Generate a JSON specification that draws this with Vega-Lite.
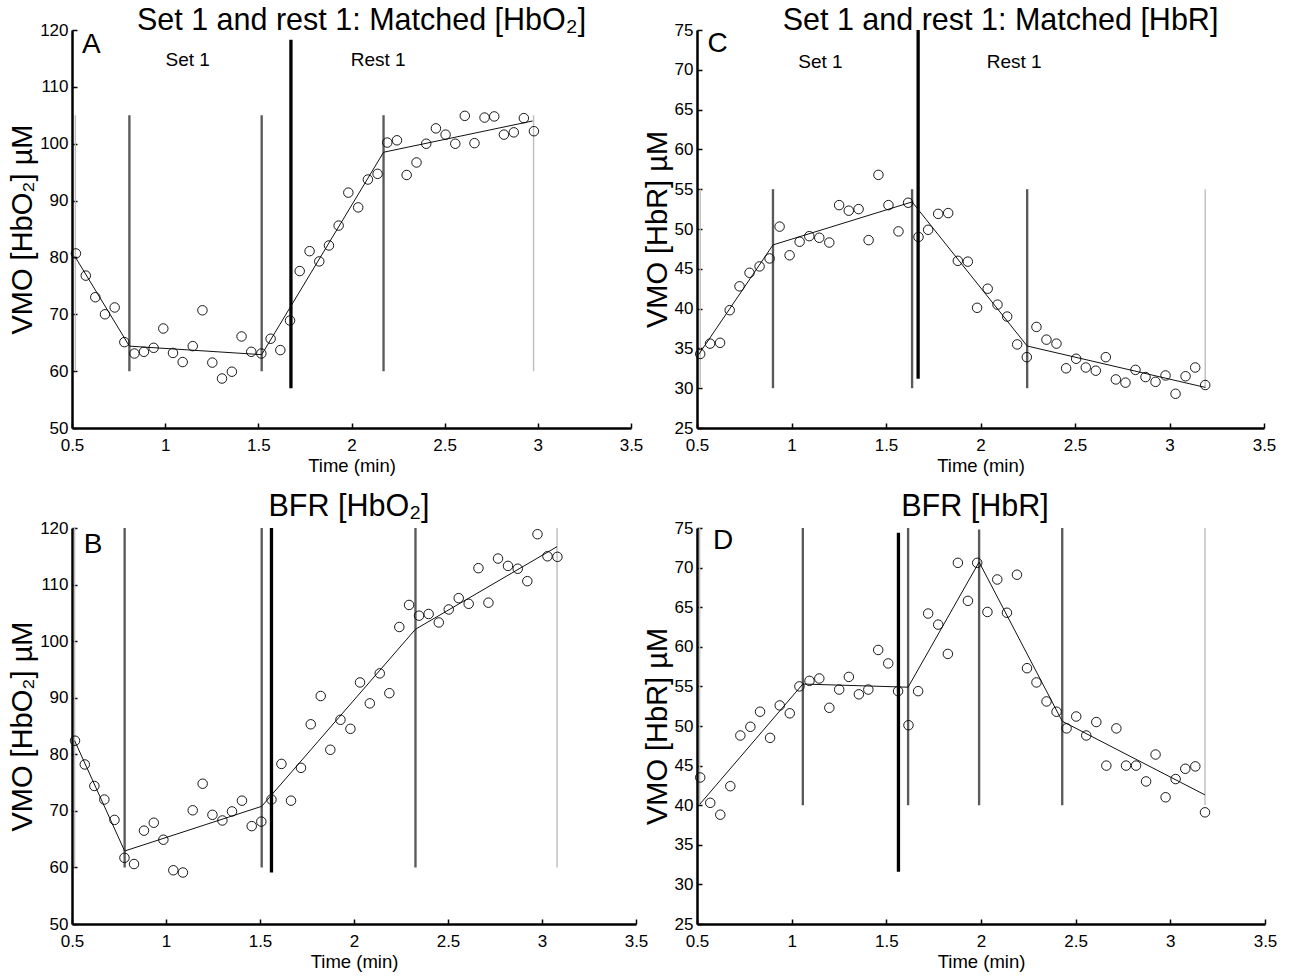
{
  "$schema": "https://vega.github.io/schema/vega-lite/v6.json",
  "padding": {"left": 8, "top": 5, "right": 5, "bottom": 5},
  "background": "white",
  "datasets": {
    "pA": [
      {"t":0.521,"v":80.7},{"t":0.574,"v":76.8},{"t":0.625,"v":73.0},{"t":0.677,"v":70.0},{"t":0.729,"v":71.2},{"t":0.781,"v":65.1},{"t":0.835,"v":63.1},{"t":0.886,"v":63.4},{"t":0.938,"v":64.1},{"t":0.990,"v":67.5},{"t":1.042,"v":63.2},{"t":1.094,"v":61.6},{"t":1.148,"v":64.4},{"t":1.200,"v":70.7},{"t":1.253,"v":61.5},{"t":1.305,"v":58.7},{"t":1.358,"v":59.9},{"t":1.410,"v":66.1},{"t":1.462,"v":63.4},{"t":1.516,"v":63.1},{"t":1.566,"v":65.7},{"t":1.618,"v":63.7},{"t":1.670,"v":68.9},{"t":1.722,"v":77.6},{"t":1.775,"v":81.1},{"t":1.827,"v":79.3},{"t":1.879,"v":82.1},{"t":1.931,"v":85.6},{"t":1.983,"v":91.4},{"t":2.036,"v":88.8},{"t":2.088,"v":93.7},{"t":2.140,"v":94.7},{"t":2.192,"v":100.2},{"t":2.244,"v":100.6},{"t":2.296,"v":94.5},{"t":2.349,"v":96.7},{"t":2.401,"v":100.0},{"t":2.453,"v":102.7},{"t":2.505,"v":101.6},{"t":2.557,"v":100.0},{"t":2.608,"v":104.9},{"t":2.660,"v":100.1},{"t":2.714,"v":104.6},{"t":2.766,"v":104.8},{"t":2.818,"v":101.6},{"t":2.871,"v":102.0},{"t":2.925,"v":104.5},{"t":2.979,"v":102.2}
    ],
    "fA": [{"t":0.515,"v":80.2},{"t":0.808,"v":64.4},{"t":1.518,"v":62.9},{"t":2.172,"v":98.5},{"t":2.972,"v":104.0}],
    "rA": [
      {"t":0.518,"v":60,"v2":105,"k":"light"},{"t":0.808,"v":60,"v2":105,"k":"mid"},{"t":1.518,"v":60,"v2":105,"k":"mid"},{"t":1.675,"v":57,"v2":118.3,"k":"thick"},{"t":2.172,"v":60,"v2":105,"k":"mid"},{"t":2.977,"v":60,"v2":105,"k":"light"}
    ],
    "lA": [{"t":1.121,"v":114.8,"label":"Set 1"},{"t":2.143,"v":114.8,"label":"Rest 1"}],
    "cA": [{"t":0.553,"v":117.3,"label":"A"}],
    "pC": [
      {"t":0.517,"v":34.3},{"t":0.569,"v":35.6},{"t":0.622,"v":35.7},{"t":0.673,"v":39.8},{"t":0.725,"v":42.8},{"t":0.778,"v":44.5},{"t":0.831,"v":45.3},{"t":0.884,"v":46.3},{"t":0.937,"v":50.3},{"t":0.990,"v":46.7},{"t":1.043,"v":48.4},{"t":1.094,"v":49.1},{"t":1.147,"v":48.9},{"t":1.200,"v":48.3},{"t":1.252,"v":53.0},{"t":1.303,"v":52.3},{"t":1.355,"v":52.5},{"t":1.408,"v":48.6},{"t":1.460,"v":56.8},{"t":1.513,"v":53.0},{"t":1.566,"v":49.7},{"t":1.617,"v":53.3},{"t":1.672,"v":49.0},{"t":1.723,"v":49.9},{"t":1.776,"v":51.9},{"t":1.829,"v":52.0},{"t":1.880,"v":46.0},{"t":1.933,"v":45.9},{"t":1.982,"v":40.1},{"t":2.038,"v":42.5},{"t":2.090,"v":40.5},{"t":2.141,"v":39.0},{"t":2.194,"v":35.5},{"t":2.245,"v":33.9},{"t":2.296,"v":37.7},{"t":2.349,"v":36.1},{"t":2.402,"v":35.6},{"t":2.453,"v":32.5},{"t":2.506,"v":33.7},{"t":2.557,"v":32.6},{"t":2.610,"v":32.2},{"t":2.663,"v":33.9},{"t":2.716,"v":31.1},{"t":2.767,"v":30.7},{"t":2.820,"v":32.3},{"t":2.873,"v":31.4},{"t":2.926,"v":30.8},{"t":2.979,"v":31.6},{"t":3.032,"v":29.3},{"t":3.085,"v":31.5},{"t":3.136,"v":32.6},{"t":3.189,"v":30.4}
    ],
    "fC": [{"t":0.508,"v":34.2},{"t":0.902,"v":48.0},{"t":1.638,"v":53.4},{"t":2.247,"v":35.3},{"t":3.189,"v":30.1}],
    "rC": [
      {"t":0.517,"v":30,"v2":55,"k":"light"},{"t":0.902,"v":30,"v2":55,"k":"mid"},{"t":1.638,"v":30,"v2":55,"k":"mid"},{"t":1.670,"v":31.2,"v2":75,"k":"thick"},{"t":2.247,"v":30,"v2":55,"k":"mid"},{"t":3.189,"v":30,"v2":55,"k":"light"}
    ],
    "lC": [{"t":1.153,"v":71.0,"label":"Set 1"},{"t":2.178,"v":71.0,"label":"Rest 1"}],
    "cC": [{"t":0.556,"v":73.3,"label":"C"}],
    "pB": [
      {"t":0.516,"v":82.4},{"t":0.568,"v":78.2},{"t":0.619,"v":74.4},{"t":0.672,"v":72.0},{"t":0.726,"v":68.4},{"t":0.779,"v":61.7},{"t":0.830,"v":60.6},{"t":0.883,"v":66.5},{"t":0.935,"v":67.9},{"t":0.986,"v":64.9},{"t":1.039,"v":59.5},{"t":1.090,"v":59.1},{"t":1.142,"v":70.1},{"t":1.195,"v":74.8},{"t":1.247,"v":69.3},{"t":1.300,"v":68.3},{"t":1.351,"v":69.9},{"t":1.404,"v":71.8},{"t":1.456,"v":67.3},{"t":1.507,"v":68.1},{"t":1.561,"v":72.0},{"t":1.614,"v":78.3},{"t":1.665,"v":71.8},{"t":1.718,"v":77.6},{"t":1.770,"v":85.3},{"t":1.823,"v":90.3},{"t":1.874,"v":80.8},{"t":1.928,"v":86.1},{"t":1.981,"v":84.5},{"t":2.032,"v":92.7},{"t":2.084,"v":89.0},{"t":2.137,"v":94.3},{"t":2.188,"v":90.8},{"t":2.241,"v":102.5},{"t":2.293,"v":106.4},{"t":2.346,"v":104.5},{"t":2.397,"v":104.8},{"t":2.451,"v":103.3},{"t":2.504,"v":105.6},{"t":2.557,"v":107.6},{"t":2.610,"v":106.6},{"t":2.662,"v":112.9},{"t":2.715,"v":106.8},{"t":2.766,"v":114.6},{"t":2.819,"v":113.3},{"t":2.871,"v":112.8},{"t":2.922,"v":110.6},{"t":2.976,"v":118.9},{"t":3.029,"v":115.0},{"t":3.082,"v":114.9}
    ],
    "fB": [{"t":0.514,"v":82.4},{"t":0.780,"v":62.9},{"t":1.509,"v":70.8},{"t":2.327,"v":102.1},{"t":3.080,"v":116.7}],
    "rB": [
      {"t":0.514,"v":60,"v2":120,"k":"light"},{"t":0.780,"v":60,"v2":120,"k":"mid"},{"t":1.509,"v":60,"v2":120,"k":"mid"},{"t":1.561,"v":59.1,"v2":120,"k":"thick"},{"t":2.327,"v":60,"v2":120,"k":"mid"},{"t":3.080,"v":60,"v2":120,"k":"light"}
    ],
    "cB": [{"t":0.562,"v":117.0,"label":"B"}],
    "pD": [
      {"t":0.517,"v":43.5},{"t":0.570,"v":40.3},{"t":0.623,"v":38.8},{"t":0.676,"v":42.4},{"t":0.729,"v":48.8},{"t":0.782,"v":49.9},{"t":0.833,"v":51.8},{"t":0.886,"v":48.5},{"t":0.937,"v":52.6},{"t":0.990,"v":51.6},{"t":1.041,"v":55.0},{"t":1.094,"v":55.7},{"t":1.146,"v":56.0},{"t":1.199,"v":52.3},{"t":1.251,"v":54.6},{"t":1.302,"v":56.2},{"t":1.355,"v":54.0},{"t":1.405,"v":54.6},{"t":1.457,"v":59.6},{"t":1.510,"v":57.9},{"t":1.562,"v":54.4},{"t":1.617,"v":50.1},{"t":1.668,"v":54.4},{"t":1.721,"v":64.2},{"t":1.774,"v":62.8},{"t":1.825,"v":59.1},{"t":1.878,"v":70.6},{"t":1.931,"v":65.8},{"t":1.980,"v":70.6},{"t":2.034,"v":64.4},{"t":2.086,"v":68.5},{"t":2.137,"v":64.3},{"t":2.190,"v":69.1},{"t":2.243,"v":57.3},{"t":2.293,"v":55.5},{"t":2.346,"v":53.1},{"t":2.399,"v":51.8},{"t":2.452,"v":49.7},{"t":2.503,"v":51.2},{"t":2.556,"v":48.8},{"t":2.609,"v":50.5},{"t":2.662,"v":45.0},{"t":2.715,"v":49.7},{"t":2.766,"v":45.0},{"t":2.819,"v":45.0},{"t":2.872,"v":43.0},{"t":2.922,"v":46.4},{"t":2.975,"v":41.0},{"t":3.028,"v":43.3},{"t":3.079,"v":44.6},{"t":3.132,"v":44.9},{"t":3.183,"v":39.1}
    ],
    "fD": [{"t":0.514,"v":40.1},{"t":1.059,"v":55.3},{"t":1.615,"v":54.9},{"t":1.990,"v":70.7},{"t":2.429,"v":50.6},{"t":3.183,"v":41.3}],
    "rD": [
      {"t":0.514,"v":40,"v2":75,"k":"light"},{"t":1.059,"v":40,"v2":75,"k":"mid"},{"t":1.564,"v":31.6,"v2":74.4,"k":"thick"},{"t":1.615,"v":40,"v2":75,"k":"mid"},{"t":1.990,"v":40,"v2":74.8,"k":"mid"},{"t":2.429,"v":40,"v2":75,"k":"mid"},{"t":3.183,"v":40,"v2":75,"k":"light"}
    ],
    "cD": [{"t":0.585,"v":73.3,"label":"D"}]
  },
  "columns": 2,
  "spacing": {"row": 100, "column": 61},
  "bounds": "flush",
  "concat": [
    {
      "width": 559, "height": 398,
      "title": {"text": "Set 1 and rest 1: Matched [HbO₂]", "offset": -15, "dx": 10},
      "encoding": {
        "x": {"field": "t", "type": "quantitative", "scale": {"domain": [0.5, 3.5], "nice": false, "zero": false}, "axis": {"values": [0.5,1,1.5,2,2.5,3,3.5], "format": "~g", "title": "Time (min)"}},
        "y": {"field": "v", "type": "quantitative", "scale": {"domain": [50, 120], "nice": false, "zero": false}, "axis": {"values": [50,60,70,80,90,100,110,120], "title": "VMO [HbO₂] µM"}}
      },
      "layer": [
        {"data": {"name": "rA"}, "mark": {"type": "rule"}, "encoding": {"y2": {"field": "v2"}, "color": {"field": "k", "type": "nominal", "scale": {"domain": ["light","mid","thick"], "range": ["#bdbdbd","#5a5a5a","#000000"]}, "legend": null}, "strokeWidth": {"field": "k", "type": "nominal", "scale": {"domain": ["light","mid","thick"], "range": [1.4,3.3,4.8]}, "legend": null}}},
        {"data": {"name": "fA"}, "mark": {"type": "line", "color": "#111", "strokeWidth": 1}},
        {"data": {"name": "pA"}, "mark": {"type": "point", "shape": "circle", "filled": false, "color": "#000", "strokeWidth": 0.9, "size": 90, "opacity": 1}},
        {"data": {"name": "lA"}, "mark": {"type": "text", "fontSize": 19, "align": "center", "baseline": "middle", "color": "#000"}, "encoding": {"text": {"field": "label"}}},
        {"data": {"name": "cA"}, "mark": {"type": "text", "fontSize": 28, "align": "left", "baseline": "middle", "color": "#000"}, "encoding": {"text": {"field": "label"}}}
      ]
    },
    {
      "width": 567, "height": 398,
      "title": {"text": "Set 1 and rest 1: Matched [HbR]", "offset": -15, "dx": 20},
      "encoding": {
        "x": {"field": "t", "type": "quantitative", "scale": {"domain": [0.5, 3.5], "nice": false, "zero": false}, "axis": {"values": [0.5,1,1.5,2,2.5,3,3.5], "format": "~g", "title": "Time (min)"}},
        "y": {"field": "v", "type": "quantitative", "scale": {"domain": [25, 75], "nice": false, "zero": false}, "axis": {"values": [25,30,35,40,45,50,55,60,65,70,75], "title": "VMO [HbR] µM"}}
      },
      "layer": [
        {"data": {"name": "rC"}, "mark": {"type": "rule"}, "encoding": {"y2": {"field": "v2"}, "color": {"field": "k", "type": "nominal", "scale": {"domain": ["light","mid","thick"], "range": ["#bdbdbd","#5a5a5a","#000000"]}, "legend": null}, "strokeWidth": {"field": "k", "type": "nominal", "scale": {"domain": ["light","mid","thick"], "range": [1.4,3.3,4.8]}, "legend": null}}},
        {"data": {"name": "fC"}, "mark": {"type": "line", "color": "#111", "strokeWidth": 1}},
        {"data": {"name": "pC"}, "mark": {"type": "point", "shape": "circle", "filled": false, "color": "#000", "strokeWidth": 0.9, "size": 90, "opacity": 1}},
        {"data": {"name": "lC"}, "mark": {"type": "text", "fontSize": 19, "align": "center", "baseline": "middle", "color": "#000"}, "encoding": {"text": {"field": "label"}}},
        {"data": {"name": "cC"}, "mark": {"type": "text", "fontSize": 28, "align": "left", "baseline": "middle", "color": "#000"}, "encoding": {"text": {"field": "label"}}}
      ]
    },
    {
      "width": 564, "height": 396,
      "title": {"text": "BFR [HbO₂]", "offset": -3, "dx": -5},
      "encoding": {
        "x": {"field": "t", "type": "quantitative", "scale": {"domain": [0.5, 3.5], "nice": false, "zero": false}, "axis": {"values": [0.5,1,1.5,2,2.5,3,3.5], "format": "~g", "title": "Time (min)"}},
        "y": {"field": "v", "type": "quantitative", "scale": {"domain": [50, 120], "nice": false, "zero": false}, "axis": {"values": [50,60,70,80,90,100,110,120], "title": "VMO [HbO₂] µM"}}
      },
      "layer": [
        {"data": {"name": "rB"}, "mark": {"type": "rule"}, "encoding": {"y2": {"field": "v2"}, "color": {"field": "k", "type": "nominal", "scale": {"domain": ["light","mid","thick"], "range": ["#bdbdbd","#5a5a5a","#000000"]}, "legend": null}, "strokeWidth": {"field": "k", "type": "nominal", "scale": {"domain": ["light","mid","thick"], "range": [1.4,3.3,4.8]}, "legend": null}}},
        {"data": {"name": "fB"}, "mark": {"type": "line", "color": "#111", "strokeWidth": 1}},
        {"data": {"name": "pB"}, "mark": {"type": "point", "shape": "circle", "filled": false, "color": "#000", "strokeWidth": 0.9, "size": 90, "opacity": 1}},
        {"data": {"name": "cB"}, "mark": {"type": "text", "fontSize": 28, "align": "left", "baseline": "middle", "color": "#000"}, "encoding": {"text": {"field": "label"}}}
      ]
    },
    {
      "width": 568, "height": 396,
      "title": {"text": "BFR [HbR]", "offset": -3, "dx": -6},
      "encoding": {
        "x": {"field": "t", "type": "quantitative", "scale": {"domain": [0.5, 3.5], "nice": false, "zero": false}, "axis": {"values": [0.5,1,1.5,2,2.5,3,3.5], "format": "~g", "title": "Time (min)"}},
        "y": {"field": "v", "type": "quantitative", "scale": {"domain": [25, 75], "nice": false, "zero": false}, "axis": {"values": [25,30,35,40,45,50,55,60,65,70,75], "title": "VMO [HbR] µM"}}
      },
      "layer": [
        {"data": {"name": "rD"}, "mark": {"type": "rule"}, "encoding": {"y2": {"field": "v2"}, "color": {"field": "k", "type": "nominal", "scale": {"domain": ["light","mid","thick"], "range": ["#bdbdbd","#5a5a5a","#000000"]}, "legend": null}, "strokeWidth": {"field": "k", "type": "nominal", "scale": {"domain": ["light","mid","thick"], "range": [1.4,3.3,4.8]}, "legend": null}}},
        {"data": {"name": "fD"}, "mark": {"type": "line", "color": "#111", "strokeWidth": 1}},
        {"data": {"name": "pD"}, "mark": {"type": "point", "shape": "circle", "filled": false, "color": "#000", "strokeWidth": 0.9, "size": 90, "opacity": 1}},
        {"data": {"name": "cD"}, "mark": {"type": "text", "fontSize": 28, "align": "left", "baseline": "middle", "color": "#000"}, "encoding": {"text": {"field": "label"}}}
      ]
    }
  ],
  "resolve": {"scale": {"color": "independent", "strokeWidth": "independent"}},
  "config": {
    "view": {"stroke": null},
    "font": "Liberation Sans",
    "text": {"font": "Liberation Sans"},
    "axis": {"domainColor": "#000", "domainWidth": 2.5, "tickColor": "#000", "tickWidth": 1.5, "tickSize": -5, "labelColor": "#000", "labelFontSize": 17, "labelFont": "Liberation Sans", "titleFont": "Liberation Sans", "titleColor": "#000", "titleFontWeight": "normal", "grid": false, "labelOverlap": false, "labelFlush": false, "labelBound": false},
    "axisX": {"labelPadding": 14, "titleFontSize": 18.5, "titlePadding": 3},
    "axisY": {"labelPadding": 9, "titleFontSize": 29, "titlePadding": 2},
    "title": {"fontSize": 30.5, "fontWeight": "normal", "font": "Liberation Sans", "color": "#000"}
  }
}
